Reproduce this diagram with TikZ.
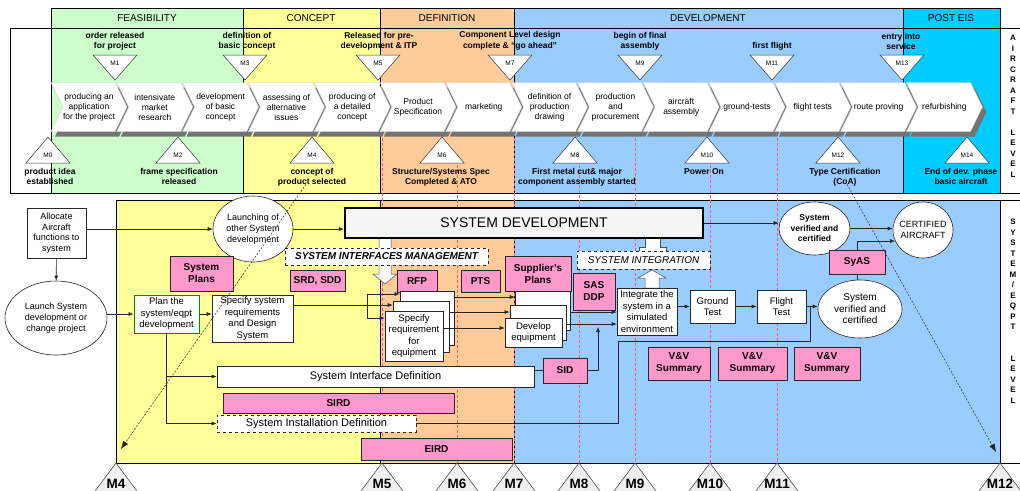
\documentclass[tikz,border=0pt]{standalone}
\usepackage{fontspec}
\setmainfont{Liberation Sans}
\usetikzlibrary{calc,positioning,shapes.geometric,shapes.symbols,shadows,arrows.meta}
\newcommand\fsz[2]{\fontsize{#1}{#2}\selectfont}
\definecolor{feas}{HTML}{CCFFCC}
\definecolor{conc}{HTML}{FFFF99}
\definecolor{defi}{HTML}{FFCC99}
\definecolor{deve}{HTML}{99CCFF}
\definecolor{post}{HTML}{00CCFF}
\definecolor{pinkish}{HTML}{FF99CC}
\tikzset{
  phase/.style={draw=black, line width=0.5pt},
  ptitle/.style={font=\fsz{10}{12}, inner sep=0pt},
  chev/.style={signal, signal from=west, signal to=east, signal pointer angle=128, draw=gray!40, fill=white, minimum width=76pt, minimum height=49pt, inner sep=0pt, align=center, font=\fsz{8.5}{10}, drop shadow={shadow xshift=4pt, shadow yshift=-5pt, fill=black!55, opacity=1}},
  mtri/.style={draw=black!80, fill=white, line width=0.5pt},
  mnum/.style={font=\fsz{6.5}{7}, inner sep=0pt},
  mlab/.style={font=\bfseries\fsz{8.5}{10}, align=center, inner sep=1pt},
  etri/.style={draw=black!80, fill=gray!12, line width=0.5pt},
  enum/.style={font=\bfseries\fsz{13.5}{14}, inner sep=0pt, anchor=base},
  redl/.style={red!65, line width=0.6pt, dash pattern=on 3pt off 2pt},
  vlab/.style={font=\bfseries\fsz{8}{10.5}, align=center, inner sep=0pt},
  box/.style={draw=black!85, fill=white, line width=0.6pt, align=center, inner sep=0pt, font=\fsz{9.5}{11.5}},
  pbox/.style={draw=black!85, fill=pinkish, line width=0.7pt, align=center, inner sep=0pt, font=\bfseries\fsz{10}{12}},
  dbox/.style={box, dashed, line width=0.8pt},
  ell/.style={ellipse, draw=black!85, fill=white, line width=0.6pt, align=center, inner sep=0pt, font=\fsz{9}{11}},
  sysbox/.style={draw=black, line width=2.5pt, fill=gray!8, minimum width=358pt, minimum height=30pt, font=\fsz{14}{16}, inner sep=0pt},
  arr/.style={draw=black!85, line width=0.6pt, -{Latex[length=5pt,width=4pt]}},
  conn/.style={draw=black!85, line width=0.6pt},
  darr/.style={black!85, line width=0.5pt, dash pattern=on 2pt off 1.5pt, -{Latex[length=8pt,width=6pt]}},
  hol/.style={draw=black!70, fill=white, line width=0.5pt}
}
% milestone above the chevrons: name, x, label x, label
\newcommand\mtop[4]{%
  \draw[mtri] (#2-22,55) -- (#2+22,55) -- (#2,80) -- cycle;
  \node[mnum] (#1) at (#2,63) {#1};
  \node[mlab, anchor=south] (l#1) at (#3,51) {#4};}
% milestone below the chevrons
\newcommand\mbot[4]{%
  \draw[mtri] (#2,137) -- (#2+22,163) -- (#2-22,163) -- cycle;
  \node[mnum] (#1) at (#2,155) {#1};
  \node[mlab, anchor=north] (l#1) at (#3,167) {#4};}
% milestone on the bottom edge
\newcommand\mend[2]{%
  \coordinate (a#1) at (#2,463);
  \draw[etri] (a#1) -- ++(27,36) -- ++(-54,0) -- cycle;
  \node[enum] (e#1) at (#2,488) {#1};}

\begin{document}
\begin{tikzpicture}[x=1pt,y=-1pt]
    \clip (0,0) rectangle (1020,490);
    \fill[white] (0,0) rectangle (1020,490);
    % aircraft level
    \draw[phase, fill=feas] (51,8) rectangle (243,193);
    \draw[phase, fill=conc] (243,8) rectangle (380,193);
    \draw[phase, fill=defi] (380,8) rectangle (514,193);
    \draw[phase, fill=deve] (514,8) rectangle (903,193);
    \draw[phase, fill=post] (903,8) rectangle (1000,193);
    \draw[phase] (1020,28) -- (10,28) -- (10,193) -- (1020,193);
    \node[ptitle] (pFeas) at (147,18) {FEASIBILITY};
    \node[ptitle] (pConc) at (311,18) {CONCEPT};
    \node[ptitle] (pDefi) at (447,18) {DEFINITION};
    \node[ptitle] (pDeve) at (708,18) {DEVELOPMENT};
    \node[ptitle] (pPost) at (951,18) {POST EIS};
    % system / eqpt level
    \draw[phase, fill=conc] (116,200) rectangle (380,463);
    \draw[phase, fill=defi] (380,200) rectangle (514,463);
    \draw[phase, fill=deve] (514,200) rectangle (1000,463);
    \draw[phase] (116,200) -- (1020,200);
    \draw[phase] (116,463) -- (1020,463);
    \foreach \x/\y in {382/133, 457/165, 514/133, 579/165, 635/133, 710/165, 777/133}
        \draw[redl] (\x,\y) -- (\x,463);
    \node[vlab] (acl) at (1013,106) {A\\I\\R\\C\\R\\A\\F\\T\\[10.5pt]L\\E\\V\\E\\L};
    \node[vlab] (sel) at (1013,311) {S\\Y\\S\\T\\E\\M\\/\\E\\Q\\P\\T\\[21pt]L\\E\\V\\E\\L};

    % process chevrons
    \node[chev] (C1) at (89,107) {producing an\\application\\for the project};
    \node[chev] (C2) at (154.8,107) {intensivate\\market\\research};
    \node[chev] (C3) at (220.6,107) {development\\of basic\\concept};
    \node[chev] (C4) at (286.4,107) {assessing of\\alternative\\issues};
    \node[chev] (C5) at (352.2,107) {producing of\\a detailed\\concept};
    \node[chev] (C6) at (418,107) {Product\\Specification};
    \node[chev] (C7) at (483.8,107) {marketing};
    \node[chev] (C8) at (549.6,107) {definition of\\production\\drawing};
    \node[chev] (C9) at (615.4,107) {production\\and\\procurement};
    \node[chev] (C10) at (681.2,107) {aircraft\\assembly};
    \node[chev] (C11) at (747,107) {ground-tests};
    \node[chev] (C12) at (812.8,107) {flight tests};
    \node[chev] (C13) at (878.6,107) {route proving};
    \node[chev] (C14) at (944.4,107) {refurbishing};

    % milestones
    \mtop{M1}{115}{115}{order released\\for project}
    \mtop{M3}{245}{247}{definition of\\basic concept}
    \mtop{M5}{378}{379}{Released for pre-\\development \& ITP}
    \mtop{M7}{510}{510}{Component Level design\\complete \& ``go ahead''}
    \mtop{M9}{640}{640}{begin of final\\assembly}
    \mtop{M11}{772}{772}{first flight}
    \mtop{M13}{902}{901}{entry into\\service}
    \mbot{M0}{48}{50}{product idea\\established}
    \mbot{M2}{178}{179}{frame specification\\released}
    \mbot{M4}{312}{312}{concept of\\product selected}
    \mbot{M6}{442}{441}{Structure/Systems Spec\\Completed \& ATO}
    \mbot{M8}{575}{577}{First metal cut\& major\\component assembly started}
    \mbot{M10}{707}{704}{Power On}
    \mbot{M12}{838}{845}{Type Certification\\(CoA)}
    \mbot{M14}{967}{961}{End of dev. phase\\basic aircraft}
    \mend{M4}{116}
    \mend{M5}{382}
    \mend{M6}{457}
    \mend{M7}{514}
    \mend{M8}{579}
    \mend{M9}{635}
    \mend{M10}{710}
    \mend{M11}{777}
    \mend{M12}{1000}

    % hollow arrows
    \draw[hol] (379,238) -- (391,238) -- (391,274) -- (397,274) -- (385,284) -- (373,274) -- (379,274) -- cycle;
    \draw[hol] (645,238) -- (660,238) -- (660,247) -- (666,247) -- (666,251) -- (639,251) -- (639,247) -- (645,247) -- cycle;
    \draw[hol] (645,288) -- (659,288) -- (659,278) -- (666,278) -- (652,270) -- (638,278) -- (645,278) -- cycle;

    % system level nodes
    \node[box, minimum width=59pt, minimum height=50pt, font=\fsz{9}{10.5}] (alloc) at (56.5,233) {Allocate\\Aircraft\\functions to\\system};
    \node[ell, minimum width=102pt, minimum height=74pt] (launch) at (56,318) {Launch System\\development or\\change project};
    \node[ell, minimum width=80pt, minimum height=66pt] (other) at (253,229) {Launching of\\other System\\development};
    \node[sysbox] (sysdev) at (524,223) {SYSTEM DEVELOPMENT};
    \node[dbox, minimum width=203pt, minimum height=17pt, font=\bfseries\itshape\fsz{10}{12}] (sim) at (386.5,256.5) {SYSTEM INTERFACES MANAGEMENT};
    \node[pbox, minimum width=63pt, minimum height=35pt] (splans) at (201.5,273.5) {System\\Plans};
    \node[pbox, minimum width=55pt, minimum height=21pt] (srd) at (317.5,280.5) {SRD, SDD};
    \node[box, draw=green!55!black, line width=0.8pt, minimum width=65pt, minimum height=38pt] (plan) at (166.5,314) {Plan the\\system/eqpt\\development};
    \node[box, minimum width=81pt, minimum height=47pt] (specsys) at (252.5,318.5) {Specify system\\requirements\\and Design\\System};
    \node[pbox, minimum width=40pt, minimum height=22pt] (rfp) at (417,281) {RFP};
    \node[pbox, minimum width=39pt, minimum height=22pt] (pts) at (480.5,281) {PTS};
    \node[box, minimum width=54pt, minimum height=54pt] (spb) at (427,318) {};
    \node[box, minimum width=56pt, minimum height=51pt] (spm) at (421,326.5) {};
    \node[box, minimum width=58pt, minimum height=50pt] (spf) at (414,336) {Specify\\requirement\\for\\equipment};
    \node[pbox, minimum width=66pt, minimum height=35pt] (supp) at (538,273.5) {Supplier's\\Plans};
    \node[box, minimum width=55pt, minimum height=39pt] (deb) at (542.5,310.5) {};
    \node[box, minimum width=56pt, minimum height=35pt] (dem) at (538,322.5) {};
    \node[box, minimum width=57pt, minimum height=29pt] (def) at (533.5,332.5) {Develop\\equipment};
    \node[pbox, minimum width=42pt, minimum height=37pt] (sasddp) at (594,291.5) {SAS\\DDP};
    \node[dbox, minimum width=133pt, minimum height=18pt, font=\itshape\fsz{10}{12}] (sint) at (643.5,260) {SYSTEM INTEGRATION};
    \node[box, minimum width=60pt, minimum height=47pt] (integ) at (647,311.5) {Integrate the\\system in a\\simulated\\environment};
    \node[box, minimum width=45pt, minimum height=33pt] (ground) at (712.5,306.5) {Ground\\Test};
    \node[box, minimum width=49pt, minimum height=33pt] (flight) at (781.5,306.5) {Flight\\Test};
    \node[ell, minimum width=71pt, minimum height=53pt, font=\bfseries\fsz{8.5}{10.5}] (sv1) at (814.5,228.5) {System\\verified and\\certified};
    \node[ell, minimum width=60pt, minimum height=56pt, inner xsep=-4pt] (cert) at (923,230) {CERTIFIED\\AIRCRAFT};
    \node[pbox, minimum width=56pt, minimum height=24pt] (syas) at (857,262) {SyAS};
    \node[ell, minimum width=84pt, minimum height=58pt, font=\fsz{10}{11.5}] (sv2) at (860,309) {System\\verified and\\certified};
    \node[pbox, minimum width=62pt, minimum height=33pt] (vv1) at (679,363.5) {V\&V\\Summary};
    \node[pbox, minimum width=69pt, minimum height=33pt] (vv2) at (752.5,363.5) {V\&V\\Summary};
    \node[pbox, minimum width=66pt, minimum height=33pt] (vv3) at (827,363.5) {V\&V\\Summary};
    \node[box, minimum width=317pt, minimum height=21pt, font=\fsz{11}{13}] (sidef) at (375.5,376.5) {System Interface Definition};
    \node[pbox, minimum width=44pt, minimum height=25pt] (sid) at (565,370.5) {SID};
    \node[pbox, minimum width=231pt, minimum height=20pt] (sird) at (338.5,403) {SIRD};
    \node[dbox, minimum width=199pt, minimum height=17pt, font=\fsz{11}{13}] (sinst) at (316.5,423.5) {System Installation Definition};
    \node[pbox, minimum width=151pt, minimum height=22pt] (eird) at (436.5,449) {EIRD};

    % connectors
    \draw[arr] (alloc) -- (launch);
    \draw[arr] (alloc.east |- other.west) -- (other.west);
    \draw[arr] (other.east) -- (other.east -| sysdev.west);
    \draw[arr] (launch.east |- plan.west) -- (plan.west);
    \draw[arr] (plan.east) -- (plan.east -| specsys.west);
    \draw[arr] (plan.south) |- (sidef.west);
    \draw[arr] (plan.south) |- (sinst.west);
    \coordinate (fork) at (367,305);
    \draw[conn] (specsys.east |- fork) -- (fork);
    \draw[arr] (fork) |- (spb.west |- 0,294);
    \draw[arr] (fork) -- (spm.west |- fork);
    \draw[arr] (fork) |- (spf.west |- 0,318);
    \draw[arr] (spb.east |- 0,297) -- (deb.west |- 0,297);
    \draw[arr] (spm.east |- 0,312) -- (dem.west |- 0,312);
    \draw[arr] (spf.east |- 0,328) -- (def.west |- 0,328);
    \draw[arr] (deb.east |- 0,312) -- (integ.west |- 0,312);
    \draw[arr] (dem.east |- 0,324) -- (integ.west |- 0,324);
    \draw[conn] (sidef.east |- sid.west) -- (sid.west);
    \coordinate (sidup) at (598,327);
    \draw[arr] (sid.east) -| (sidup);
    \draw[arr] (integ.east |- ground.west) -- (ground.west);
    \draw[arr] (ground.east) -- (flight.west);
    \draw[arr] (flight.east) -- (flight.east -| sv2.west);
    \coordinate (fb) at (810,341);
    \coordinate (fc) at (618,341);
    \draw[conn] (fb |- flight.east) -- (fb) -- (fc) |- (sinst.east);
    \draw[arr] (sysdev.east) -- (sysdev.east -| sv1.west);
    \draw[arr] (sv1.east) -- (sv1.east -| cert.west);
    \coordinate (certin) at ($(cert.center)+(-28,11)$);
    \draw[arr] (syas.north) |- (certin);
    \draw[conn] (syas.south) -- (syas.south |- sv2.north);
    \draw[darr] ($(lM4.south)+(-6,-3)$) -- ($(aM4)+(5,-14)$);
    \draw[darr] ($(lM12.south)+(2,-3)$) -- ($(aM12)+(-4,-11)$);
\end{tikzpicture}
\end{document}
